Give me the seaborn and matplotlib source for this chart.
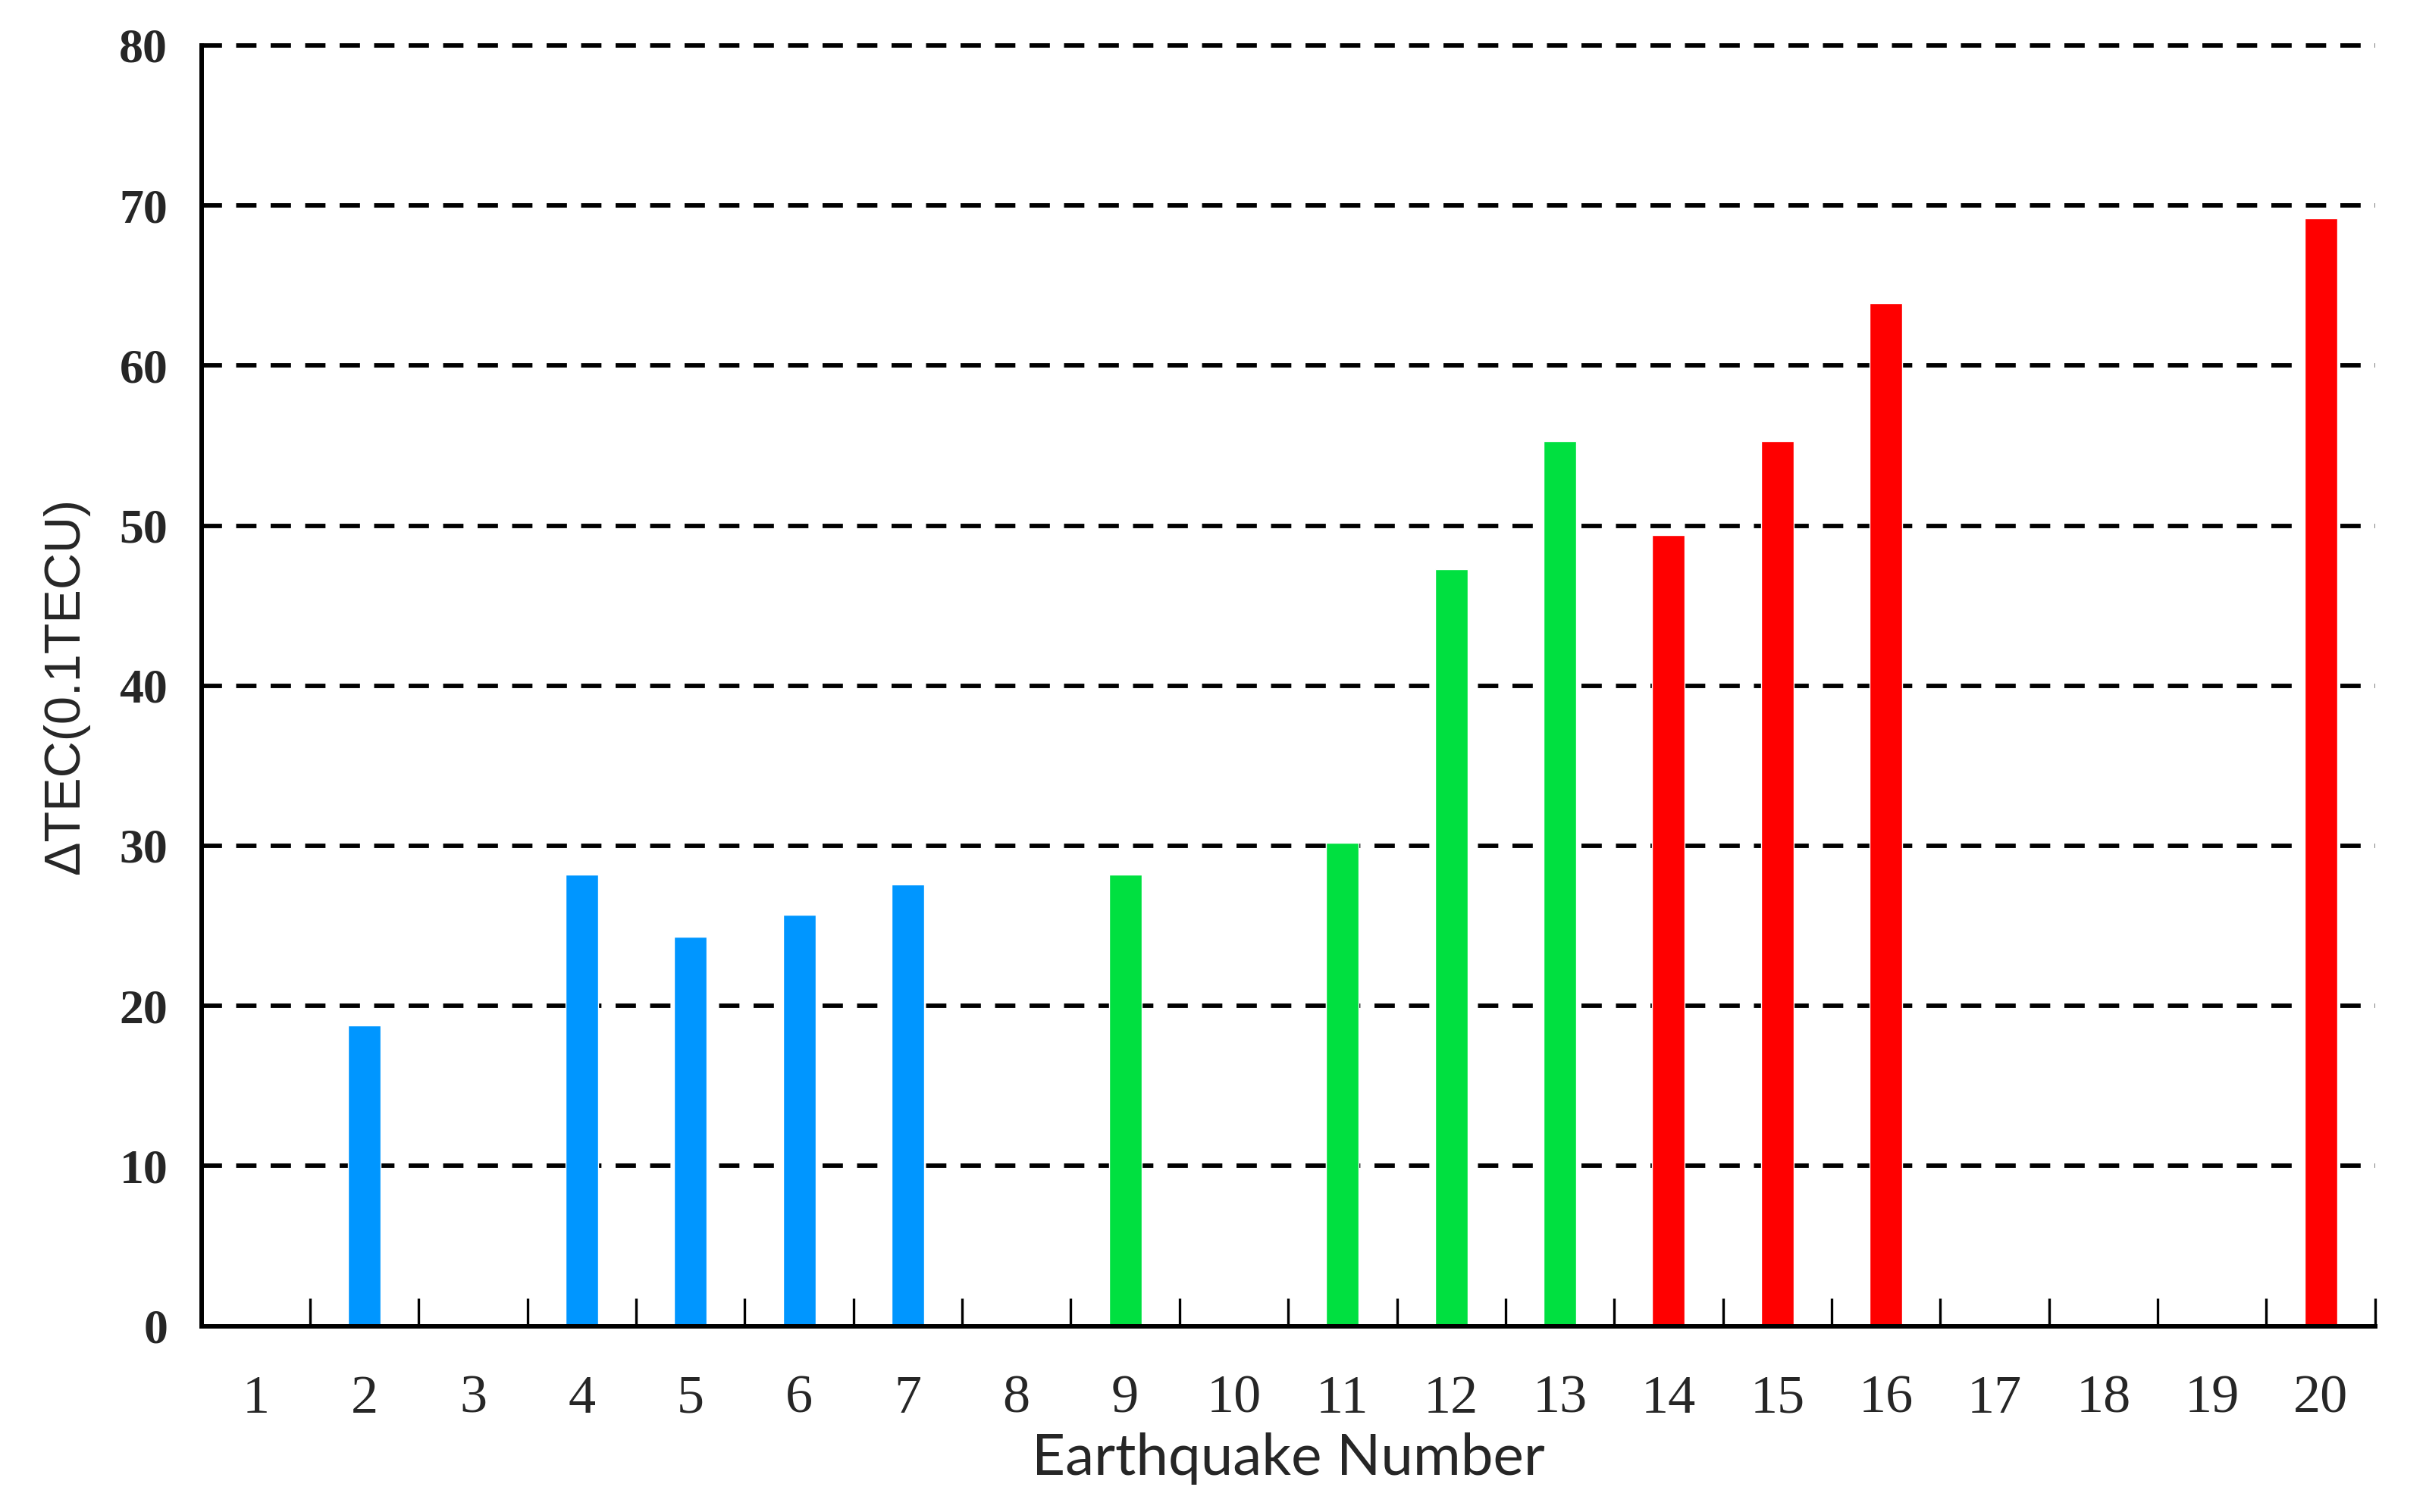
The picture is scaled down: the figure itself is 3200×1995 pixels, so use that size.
import matplotlib
matplotlib.use("Agg")
import matplotlib.pyplot as plt
import seaborn as sns
import pandas as pd

# ---- data ----
all_numbers = [str(i) for i in range(1, 21)]
bar_numbers = ["2", "4", "5", "6", "7", "9", "11", "12", "13", "14", "15", "16", "20"]
bar_values = [18.8, 28.2, 24.3, 25.7, 27.6, 28.2, 30.2, 47.3, 55.3, 49.4, 55.3, 63.9, 69.2]
bar_groups = ["A", "A", "A", "A", "A", "B", "B", "B", "B", "C", "C", "C", "C"]
group_colors = {"A": "#0096FF", "B": "#00E040", "C": "#FF0000"}
y_ticks = [0, 10, 20, 30, 40, 50, 60, 70, 80]

df = pd.DataFrame({"num": bar_numbers, "val": bar_values, "grp": bar_groups})

sns.set_style("white")
fig = plt.figure(figsize=(32, 19.95), dpi=100)
ax = fig.add_axes([0.083, 0.123, 0.896, 0.847])

sns.barplot(data=df, x="num", y="val", hue="grp", order=all_numbers,
            palette=group_colors, dodge=False, width=0.3, saturation=1,
            legend=False, ax=ax, zorder=3)

ax.set_xlim(-0.5, 19.5)
ax.set_ylim(0, 80)
ax.set_yticks(y_ticks)
ax.set_yticklabels([str(v) for v in y_ticks])

# grid
for v in y_ticks[1:]:
    ax.axhline(v, color="black", lw=4.2, ls=(0, (4.6, 3.2)), zorder=1, clip_on=False)

# spines
for s in ["top", "right"]:
    ax.spines[s].set_visible(False)
for s in ["left", "bottom"]:
    ax.spines[s].set_linewidth(4.3)
    ax.spines[s].set_color("black")
    ax.spines[s].set_zorder(5)

# ticks
ax.tick_params(axis="y", left=False, length=0, pad=32)
ax.tick_params(axis="x", which="major", bottom=True, length=0, pad=46)
ax.set_xticks([i + 0.5 for i in range(20)], minor=True)
ax.tick_params(axis="x", which="minor", bottom=True, direction="in",
               length=27, width=2.4, color="black")

for lab in ax.get_yticklabels():
    lab.set_family("Liberation Serif")
    lab.set_weight("bold")
    lab.set_fontsize(46)
for lab in ax.get_xticklabels():
    lab.set_family("Liberation Serif")
    lab.set_fontsize(52)

ax.set_xlabel("Earthquake Number", family="Lato", fontsize=55, labelpad=8)
ax.set_ylabel("ΔTEC(0.1TECU)", family="Liberation Sans", fontsize=48, labelpad=28)

fig.savefig("out.png", dpi=100)
